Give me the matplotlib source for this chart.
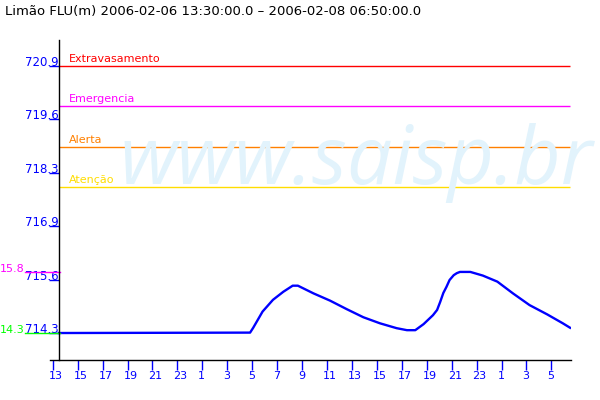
import matplotlib
matplotlib.use('Agg')
import matplotlib.pyplot as plt
import matplotlib.dates as mdates
import matplotlib.transforms as mtransforms
import pandas as pd

# river level, Limão FLU (m)
times = ['2006-02-06 13:30', '2006-02-07 04:50', '2006-02-07 05:05', '2006-02-07 05:50',
         '2006-02-07 06:40', '2006-02-07 07:30', '2006-02-07 08:15', '2006-02-07 08:40',
         '2006-02-07 09:55', '2006-02-07 11:15', '2006-02-07 12:35', '2006-02-07 13:55',
         '2006-02-07 15:15', '2006-02-07 16:35', '2006-02-07 17:25', '2006-02-07 18:05',
         '2006-02-07 18:45', '2006-02-07 19:30', '2006-02-07 19:50', '2006-02-07 20:05',
         '2006-02-07 20:20', '2006-02-07 20:35', '2006-02-07 20:50', '2006-02-07 21:10',
         '2006-02-07 21:25', '2006-02-07 21:40', '2006-02-07 22:30', '2006-02-07 23:30',
         '2006-02-08 00:40', '2006-02-08 01:55', '2006-02-08 03:15', '2006-02-08 04:40',
         '2006-02-08 05:55', '2006-02-08 06:30']
levels = [714.30, 714.31, 714.43, 714.83,
          715.12, 715.32, 715.47, 715.47,
          715.28, 715.10, 714.89, 714.69,
          714.54, 714.42, 714.37, 714.37,
          714.52, 714.74, 714.87, 715.07,
          715.29, 715.44, 715.61, 715.73,
          715.78, 715.81, 715.81, 715.72,
          715.57, 715.28, 714.99, 714.76,
          714.54, 714.43]

limit_names = ['Extravasamento', 'Emergencia', 'Alerta', 'Atenção']
limit_values = [720.9, 719.9, 718.9, 717.9]
limit_colors = ['#ff0000', '#ff00ff', '#ff8000', '#ffdd00']

ytick_values = [714.3, 715.62, 716.94, 718.26, 719.58, 720.9]

title = 'Limão FLU(m) 2006-02-06 13:30:00.0 – 2006-02-08 06:50:00.0'

t = pd.to_datetime(times)
start = t[0]
PX = 0.72  # points per pixel at dpi 100

fig = plt.figure(figsize=(6, 4), dpi=100)
ax = fig.add_axes([50/600, 0.1, 520.7/600, 0.8])
ax.patch.set_visible(False)

# watermark
fig.text(119/600, (400-184)/400, 'www.saisp.br', fontsize=58, style='italic',
         family='Open Sans', color='#e2f3fc', va='baseline', zorder=0)

ax.hlines(limit_values, start, t[-1], colors=limit_colors, lw=1)
for name, v, c in zip(limit_names, limit_values, limit_colors):
    ax.annotate(name, xy=(start, v), xytext=(10*PX, 4*PX), textcoords='offset points',
                color=c, fontsize=8, va='baseline')

ax.plot(t, levels, color='#0000ff', lw=1.7)

# max / min markers at the left
vmax, vmin = max(levels), min(levels)
bt = mtransforms.blended_transform_factory(fig.transFigure, ax.transData)
for v, c in [(vmax, '#ff00ff'), (vmin, '#00ff00')]:
    ax.plot([25/600, 60/600], [v, v], color=c, lw=1, transform=bt, clip_on=False)
    ax.text(0, v, f'{v - 700:.1f}', color=c, fontsize=8, va='baseline',
            transform=bt, clip_on=False)

ax.set_xlim(pd.Timestamp('2006-02-06 12:47'), pd.Timestamp('2006-02-08 06:33'))
ax.set_ylim(713.633, 721.543)

for s in ['top', 'right']:
    ax.spines[s].set_visible(False)
ax.spines['left'].set_position(('data', mdates.date2num(start)))
ax.spines['left'].set_linewidth(1)
ax.spines['bottom'].set_linewidth(1)

ax.xaxis.set_major_locator(mdates.HourLocator(byhour=range(1, 24, 2)))
ax.xaxis.set_major_formatter(mdates.DateFormatter('%-H'))
ax.tick_params(axis='x', direction='out', length=10*PX, width=1, color='#0000ff',
               labelcolor='#0000ff', labelsize=8, pad=0.5)
for lbl in ax.get_xticklabels():
    lbl.set_horizontalalignment('left')
    lbl.set_transform(lbl.get_transform() +
                      mtransforms.ScaledTranslation(-4/100, 0, fig.dpi_scale_trans))

ax.set_yticks(ytick_values)
ax.set_yticklabels([f'{v:.1f}' for v in ytick_values])
ax.tick_params(axis='y', direction='out', length=10*PX, width=1, color='#0000ff',
               labelcolor='#0000ff', labelsize=8.5, pad=-10*PX)
for lbl in ax.get_yticklabels():
    lbl.set_verticalalignment('baseline')

fig.text(5/600, (400-12)/400, title, fontsize=9.5, va='center', color='black')

fig.savefig('out.png', dpi=100)
